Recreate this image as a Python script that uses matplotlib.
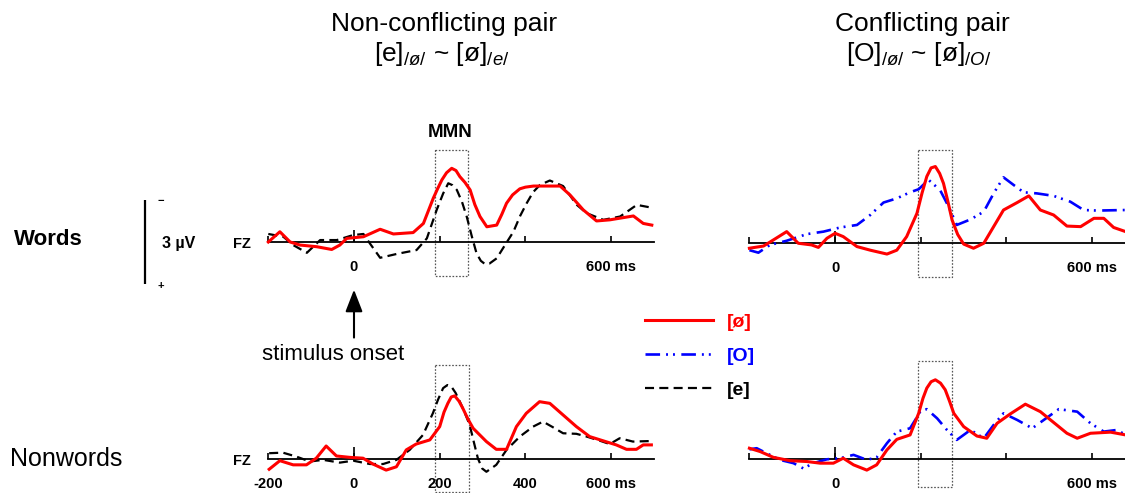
import matplotlib
matplotlib.use("Agg")
import matplotlib.pyplot as plt
from matplotlib.patches import Rectangle
from matplotlib.lines import Line2D

plt.rcParams['font.family'] = ['Liberation Sans', 'DejaVu Sans']
plt.rcParams['mathtext.fontset'] = 'custom'
plt.rcParams['mathtext.rm'] = 'Liberation Sans'
plt.rcParams['mathtext.it'] = 'Liberation Sans:italic'
plt.rcParams['lines.scale_dashes'] = False

# ---------------- data (ms, µV; negative plotted upward) ----------------
# Words, non-conflicting pair
words_nc_oe_t = [-200, -173, -149, -126, -87, -52, -33, -17, 22, 61, 92, 138, 162, 185, 195, 205, 216, 228, 238,
                 247, 259, 271, 282, 294, 310, 333, 345, 356, 370, 387, 400, 419, 481, 504, 535, 566, 597, 652,
                 675, 695]
words_nc_oe_v = [0, -0.37, 0, 0.11, 0.17, 0.27, 0.11, -0.13, -0.19, -0.46, -0.29, -0.34, -0.67, -1.58, -1.92,
                 -2.24, -2.50, -2.66, -2.58, -2.36, -2.15, -1.88, -1.35, -0.92, -0.55, -0.61, -1.00, -1.40,
                 -1.70, -1.92, -1.98, -2.02, -2.02, -1.70, -1.16, -0.76, -0.80, -0.94, -0.67, -0.61]
words_nc_e_t = [-200, -165, -142, -110, -79, -40, -2, 22, 37, 61, 100, 146, 170, 193, 208, 220, 230, 240, 252,
                263, 275, 286, 296, 306, 316, 333, 352, 372, 388, 403, 418, 434, 457, 488, 520, 543, 582, 621,
                660, 691]
words_nc_e_v = [-0.29, -0.19, 0.11, 0.39, -0.07, -0.07, -0.25, -0.29, 0.05, 0.57, 0.43, 0.29, -0.13, -1.16,
                -1.75, -2.12, -2.05, -1.88, -1.45, -0.92, -0.20, 0.41, 0.68, 0.80, 0.78, 0.59, 0.12, -0.37,
                -0.95, -1.40, -1.80, -2.06, -2.22, -2.02, -1.34, -1.04, -0.80, -0.92, -1.34, -1.25]
# Words, conflicting pair
words_c_oe_t = [-200, -167, -144, -113, -86, -55, -39, -19, 0, 19, 51, 82, 121, 144, 167, 191, 203, 214, 224,
                234, 244, 253, 263, 273, 286, 300, 323, 347, 370, 393, 425, 452, 479, 510, 541, 573, 604, 627,
                650, 678]
words_c_oe_v = [0.20, 0.12, -0.10, -0.40, 0.02, 0.08, 0.17, -0.16, -0.34, -0.22, 0.14, 0.27, 0.41, 0.27, -0.22,
                -1.06, -1.80, -2.39, -2.70, -2.75, -2.50, -2.14, -1.50, -0.82, -0.30, 0.05, 0.20, 0.02, -0.58,
                -1.18, -1.45, -1.69, -1.18, -1.00, -0.60, -0.58, -0.88, -0.88, -0.55, -0.40]
words_c_o_t = [-200, -179, -152, -113, -66, -27, 12, 51, 82, 113, 144, 175, 195, 218, 245, 265, 284, 316, 347,
               370, 393, 417, 440, 471, 510, 549, 580, 612, 678]
words_c_o_v = [0.27, 0.36, 0.08, -0.07, -0.31, -0.40, -0.55, -0.64, -1.00, -1.45, -1.60, -1.82, -1.93, -2.27,
               -1.90, -1.30, -0.64, -0.84, -1.12, -1.78, -2.36, -2.08, -1.82, -1.78, -1.69, -1.48, -1.18, -1.16,
               -1.18]
# Nonwords, non-conflicting pair
nonwords_nc_oe_t = [-198, -173, -142, -111, -88, -65, -41, -10, 21, 44, 75, 99, 122, 145, 177, 200, 210, 219,
                    227, 235, 245, 254, 266, 278, 309, 332, 356, 379, 402, 433, 457, 488, 519, 550, 581, 612,
                    636, 659, 675, 694]
nonwords_nc_oe_v = [0.36, 0.05, 0.20, 0.20, -0.04, -0.48, -0.12, -0.07, -0.04, 0.17, 0.39, 0.27, -0.34, -0.55,
                    -0.70, -1.18, -1.70, -2.02, -2.25, -2.29, -2.10, -1.84, -1.45, -1.12, -0.64, -0.36, -0.36,
                    -1.18, -1.66, -2.08, -2.02, -1.60, -1.18, -0.82, -0.67, -0.52, -0.36, -0.36, -0.52, -0.52]
nonwords_nc_e_t = [-198, -166, -135, -103, -72, -33, -2, 37, 68, 99, 130, 161, 184, 196, 208, 218, 227, 237,
                   247, 258, 270, 280, 289, 299, 309, 332, 356, 387, 418, 441, 464, 488, 519, 543, 574, 597, 620,
                   651, 694]
nonwords_nc_e_v = [-0.22, -0.24, -0.10, 0.08, 0.02, 0.12, 0.05, 0.17, 0.17, 0.02, -0.34, -0.88, -1.66, -2.15,
                   -2.57, -2.68, -2.63, -2.40, -2.08, -1.70, -1.24, -0.60, -0.04, 0.33, 0.45, 0.20, -0.34,
                   -0.82, -1.18, -1.36, -1.16, -0.94, -0.92, -0.82, -0.67, -0.55, -0.76, -0.64, -0.66]
# Nonwords, conflicting pair
nonwords_c_oe_t = [-200, -175, -144, -105, -66, -35, -4, 19, 43, 74, 97, 121, 144, 175, 195, 205, 214, 224, 234,
                   246, 257, 267, 277, 300, 331, 354, 378, 409, 444, 479, 510, 541, 565, 596, 643, 678]
nonwords_c_oe_v = [-0.40, -0.28, -0.07, 0.05, 0.08, 0.14, 0.14, -0.04, 0.20, 0.39, 0.20, -0.34, -0.72, -0.88,
                   -1.66, -2.20, -2.57, -2.80, -2.87, -2.75, -2.51, -2.10, -1.66, -1.18, -0.84, -0.76, -1.30,
                   -1.64, -1.99, -1.72, -1.33, -0.94, -0.76, -0.94, -0.98, -0.88]
nonwords_c_o_t = [-200, -183, -160, -129, -97, -74, -51, -19, 12, 43, 74, 97, 121, 144, 175, 199, 214, 238, 261,
                  284, 316, 347, 370, 393, 425, 460, 487, 522, 565, 596, 627, 658, 678]
nonwords_c_o_v = [-0.36, -0.40, -0.22, 0.02, 0.14, 0.33, 0.14, 0, -0.04, -0.16, 0.02, -0.07, -0.58, -1.00,
                  -1.12, -1.72, -1.81, -1.48, -1.06, -0.70, -1.06, -0.76, -1.24, -1.66, -1.42, -1.12, -1.42,
                  -1.81, -1.72, -1.30, -1.00, -1.06, -0.88]

# MMN windows (ms) and box extents (µV) per panel
mmn_tl = (188, 265, -3.32, 1.23)
mmn_tr = (194, 273, -3.35, 1.24)
mmn_bl = (190, 268, -3.40, 1.17)
mmn_br = (193, 272, -3.56, 1.00)

tick_ms = [-200, 0, 200, 400, 600]
labels_sparse = ['', '0', '', '', '600 ms']
labels_full = ['-200', '0', '200', '400', '600 ms']
legend_labels = ['[ø]', '[O]', '[e]']
scale_uV = 3

RED = '#ff0000'
BLUE = '#0000ff'
BLACK = '#000000'
DASH_E = (0, (6.5, 3.8))
DASH_O = (0, (10.5, 4.3, 1.4, 3.6, 1.4, 4.6))

W, H = 1125, 493
fig = plt.figure(figsize=(W / 100, H / 100), dpi=100)

PX_MS = 85.7 / 200.0
PX_UV = 27.7
XLIM = (-200, 700)


def make_ax(x0, baseline, ylim, tick_labels):
    top = baseline + ylim[1] * PX_UV
    height = (ylim[0] - ylim[1]) * PX_UV
    width = (XLIM[1] - XLIM[0]) * PX_MS
    ax = fig.add_axes([x0 / W, 1 - (top + height) / H, width / W, height / H])
    ax.set_xlim(*XLIM)
    ax.set_ylim(*ylim)
    ax.patch.set_visible(False)
    for s in ['left', 'right', 'top']:
        ax.spines[s].set_visible(False)
    ax.spines['bottom'].set_position(('data', 0))
    ax.spines['bottom'].set_linewidth(1.3)
    ax.set_yticks([])
    ax.set_xticks(tick_ms)
    ax.set_xticklabels(tick_labels, fontsize=10.5, fontweight='bold')
    ax.xaxis.remove_overlapping_locs = False
    ax.set_xticks([0], minor=True)
    ax.tick_params(axis='x', which='major', direction='in', length=4.5, width=1.2, pad=13)
    ax.tick_params(axis='x', which='minor', direction='in', length=8.5, width=1.2)
    return ax


def mmn_box(ax, box):
    t0, t1, v0, v1 = box
    ax.add_patch(Rectangle((t0, v0), t1 - t0, v1 - v0, fill=False, edgecolor='#555555',
                           linestyle=(0, (1.2, 1.2)), linewidth=0.9, clip_on=False, zorder=1))


ax_tl = make_ax(268.3, 242.0, (1.5, -3.6), labels_sparse)
ax_tr = make_ax(749.4, 242.7, (1.5, -3.6), labels_sparse)
ax_bl = make_ax(268.3, 459.3, (1.25, -3.7), labels_full)
ax_br = make_ax(749.4, 459.3, (1.25, -3.7), labels_sparse)

for ax, box in [(ax_tl, mmn_tl), (ax_tr, mmn_tr), (ax_bl, mmn_bl), (ax_br, mmn_br)]:
    mmn_box(ax, box)

kw_oe = dict(color=RED, lw=2.2, solid_joinstyle='round', clip_on=False, zorder=4)
kw_e = dict(color=BLACK, lw=1.6, linestyle=DASH_E, clip_on=False, zorder=3)
kw_o = dict(color=BLUE, lw=1.9, linestyle=DASH_O, clip_on=False, zorder=3)

ax_tl.plot(words_nc_e_t, words_nc_e_v, **kw_e)
ax_tl.plot(words_nc_oe_t, words_nc_oe_v, **kw_oe)
ax_tr.plot(words_c_o_t, words_c_o_v, **kw_o)
ax_tr.plot(words_c_oe_t, words_c_oe_v, **kw_oe)
ax_bl.plot(nonwords_nc_e_t, nonwords_nc_e_v, **kw_e)
ax_bl.plot(nonwords_nc_oe_t, nonwords_nc_oe_v, **kw_oe)
ax_br.plot(nonwords_c_o_t, nonwords_c_o_v, **kw_o)
ax_br.plot(nonwords_c_oe_t, nonwords_c_oe_v, **kw_oe)

# 3 µV scale bar (drawn in the top-left panel's units, left of the panel)
bar_ms = -488
ax_tl.plot([bar_ms, bar_ms], [-scale_uV / 2, scale_uV / 2], color='black', lw=1.6, clip_on=False,
           solid_capstyle='butt')

# stimulus onset arrow at t = 0
ax_tl.annotate('', xy=(0, 1.72), xytext=(0, 3.45), xycoords='data', textcoords='data',
               arrowprops=dict(arrowstyle='-|>,head_length=0.9,head_width=0.35', lw=1.5, color='black',
                               shrinkA=0, shrinkB=0, mutation_scale=15), annotation_clip=False)


def ftext(x, y, s, **kw):
    fig.text(x / W, 1 - y / H, s, **kw)


# titles
ftext(444, 31.5, 'Non-conflicting pair', fontsize=19, ha='center', va='baseline')
ftext(442, 61.5, r'[e]$_{\mathit{/ø/}}$ ~ [ø]$_{\mathit{/e/}}$', fontsize=19, ha='center', va='baseline')
ftext(922, 31.5, 'Conflicting pair', fontsize=19, ha='center', va='baseline')
ftext(919, 61.5, r'[O]$_{\mathit{/ø/}}$ ~ [ø]$_{\mathit{/O/}}$', fontsize=19, ha='center', va='baseline')

ftext(450, 137, 'MMN', fontsize=13.5, fontweight='bold', ha='center', va='baseline')
ftext(14, 245, 'Words', fontsize=16, fontweight='bold', ha='left', va='baseline')
ftext(10, 466.5, 'Nonwords', fontsize=18, ha='left', va='baseline')
ftext(162, 248, '3 µV', fontsize=11.5, fontweight='bold', ha='left', va='baseline')
ftext(157, 201, '−', fontsize=8, fontweight='bold', ha='left', va='center')
ftext(157, 286, '+', fontsize=8, fontweight='bold', ha='left', va='center')
ftext(233, 243.5, 'FZ', fontsize=10.5, fontweight='bold', ha='left', va='center')
ftext(233, 461, 'FZ', fontsize=10.5, fontweight='bold', ha='left', va='center')
ftext(333, 360, 'stimulus onset', fontsize=16, ha='center', va='baseline')

# legend
handles = [Line2D([], [], **{k: v for k, v in kw_oe.items() if k not in ('clip_on', 'zorder')}),
           Line2D([], [], **{k: v for k, v in kw_o.items() if k not in ('clip_on', 'zorder')}),
           Line2D([], [], **{k: v for k, v in kw_e.items() if k not in ('clip_on', 'zorder')})]
leg = fig.legend(handles, legend_labels, loc='upper left', bbox_to_anchor=(645 / W, 1 - 313 / H),
                 frameon=False, prop={'size': 14, 'weight': 'bold'}, handlelength=3.5, handletextpad=0.7,
                 labelspacing=0.85, borderpad=0, borderaxespad=0,
                 labelcolor=[RED, BLUE, BLACK])

fig.savefig('out.png', dpi=100)
